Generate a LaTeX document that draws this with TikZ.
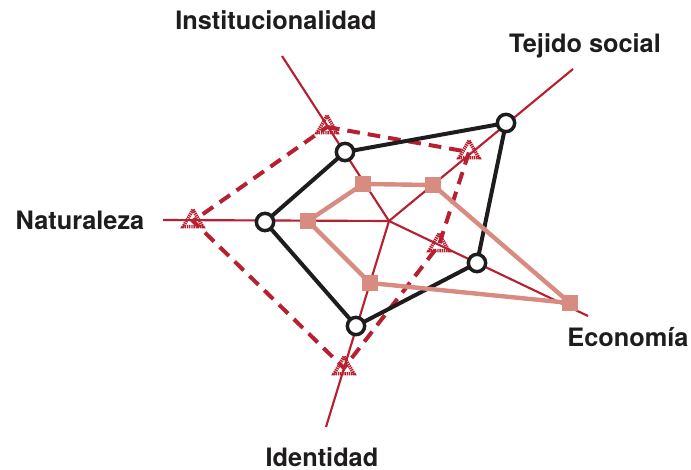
\documentclass[tikz,border=0pt]{standalone}
\usepackage{fontspec}
\setmainfont{TeX Gyre Heros}
\usetikzlibrary{shapes.geometric}

\definecolor{axisred}{RGB}{183,32,48}
\definecolor{salmon}{RGB}{216,139,128}
\definecolor{inkblack}{RGB}{30,28,28}

\begin{document}
\begin{tikzpicture}[x=0.75pt,y=-0.75pt]
        \tikzstyle{every node}=[font=\fontsize{19}{22}\selectfont\bfseries, text=inkblack]
        \tikzstyle{axisline}=[axisred, line width=1.6pt]
        \tikzstyle{dashpoly}=[axisred, line width=3pt, dash pattern=on 9.5pt off 6pt]
        \tikzstyle{blackpoly}=[inkblack, line width=3pt, line join=round]
        \tikzstyle{salmonpoly}=[salmon, line width=3.3pt, line join=round]
        \tikzstyle{circlemark}=[circle, draw=inkblack, fill=white, line width=2.6pt, minimum size=13pt, inner sep=0pt]
        \tikzstyle{squaremark}=[rectangle, fill=salmon, minimum size=12.5pt, inner sep=0pt]
        \tikzstyle{trianglemark}=[regular polygon, regular polygon sides=3, draw=axisred, line width=2.6pt, dash pattern=on 1pt off 0.6pt, minimum size=17pt, inner sep=0pt]

        \useasboundingbox (0,0) rectangle (691,470);

        % axes
        \coordinate (center) at (389,221);
        \coordinate (instEnd) at (282,56);
        \coordinate (tejEnd) at (573,69);
        \coordinate (ecoEnd) at (588,316);
        \coordinate (idEnd) at (326,427);
        \coordinate (natEnd) at (163,220);

        \foreach \e in {instEnd,tejEnd,ecoEnd,idEnd,natEnd}
            \draw[axisline] (center) -- (\e);

        % labels
        \node (instLabel) at (276,20) {Institucionalidad};
        \node (tejLabel) at (585,46) {Tejido social};
        \node (natLabel) at (80,220) {Naturaleza};
        \node (ecoLabel) at (628,337) {Economía};
        \node (idLabel) at (322,457) {Identidad};

        % markers
        \node[trianglemark] (instC) at (327,127) {};
        \node[trianglemark] (tejC) at (469,152) {};
        \node[trianglemark] (ecoC) at (439,245) {};
        \node[trianglemark] (idC) at (344,368) {};
        \node[trianglemark] (natC) at (193,221) {};

        \draw[dashpoly] (instC.center) -- (tejC.center) -- (ecoC.center) -- (idC.center) -- (natC.center) -- cycle;

        \draw[blackpoly] (345,152) coordinate (instA) -- (506,123) coordinate (tejA) -- (477,263) coordinate (ecoA) -- (356,326) coordinate (idA) -- (265,222) coordinate (natA) -- cycle;

        \draw[salmonpoly] (363,184) coordinate (instB) -- (433,185) coordinate (tejB) -- (570,303) coordinate (ecoB) -- (370,283) coordinate (idB) -- (308,221) coordinate (natB) -- cycle;

        \foreach \p in {instA,tejA,ecoA,idA,natA}
            \node[circlemark] at (\p) {};
        \foreach \p in {instB,tejB,ecoB,idB,natB}
            \node[squaremark] at (\p) {};
\end{tikzpicture}
\end{document}
